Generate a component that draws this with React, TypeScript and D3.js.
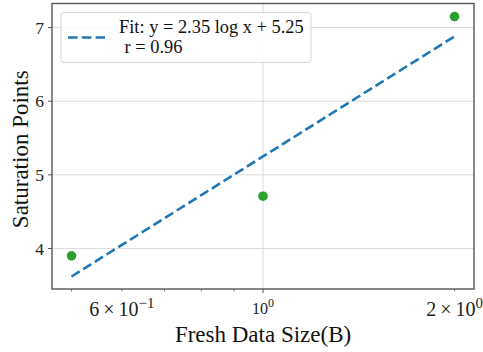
import React, { useEffect, useRef } from "react";
import * as d3 from "d3";

// observed points
const sizes = [0.5, 1, 2];
const points = [3.9, 4.71, 7.15];

// fitted curve, y = 2.35 ln x + 5.25
const fitX = [0.5, 1, 2];
const fitY = [3.62, 5.25, 6.88];

const yTicks = [4, 5, 6, 7];
const xMinor = [0.5, 0.6, 0.7, 0.8, 0.9, 2];
const legendLines = ["Fit: y = 2.35 log x + 5.25", "r = 0.96"];

export default function App() {
  const svgRef = useRef<SVGSVGElement | null>(null);

  useEffect(() => {
    if (!svgRef.current) return;
    const svg = d3.select(svgRef.current);
    svg.selectAll("*").remove();

    const width = 483;
    const height = 352;
    const margin = { top: 3.5, right: 9, bottom: 63, left: 52 };
    const w = width - margin.left - margin.right;
    const h = height - margin.top - margin.bottom;
    const font = "'Liberation Serif', 'Times New Roman', serif";

    const x = d3.scaleLog().domain([0.4659, 2.146]).range([0, w]);
    const y = d3.scaleLinear().domain([3.45, 7.327]).range([h, 0]);

    const g = svg.append("g").attr("transform", `translate(${margin.left},${margin.top})`);

    // grid
    g.selectAll(".hgrid")
      .data(yTicks)
      .enter()
      .append("line")
      .attr("x1", 0)
      .attr("x2", w)
      .attr("y1", (d) => y(d))
      .attr("y2", (d) => y(d))
      .attr("stroke", "#dcdcdc")
      .attr("stroke-width", 1);
    g.append("line")
      .attr("x1", x(1))
      .attr("x2", x(1))
      .attr("y1", 0)
      .attr("y2", h)
      .attr("stroke", "#dcdcdc")
      .attr("stroke-width", 1);

    // fit line
    const line = d3
      .line<number>()
      .x((d, i) => x(fitX[i]))
      .y((d) => y(d));
    g.append("path")
      .datum(fitY)
      .attr("fill", "none")
      .attr("stroke", "#1f77b4")
      .attr("stroke-width", 2.6)
      .attr("stroke-dasharray", "9.6,4.2")
      .attr("d", line);

    // points
    g.selectAll(".pt")
      .data(points)
      .enter()
      .append("circle")
      .attr("cx", (d, i) => x(sizes[i]))
      .attr("cy", (d) => y(d))
      .attr("r", 4.8)
      .attr("fill", "#2ca02c");

    // spines
    g.append("rect")
      .attr("x", 0)
      .attr("y", 0)
      .attr("width", w)
      .attr("height", h)
      .attr("fill", "none")
      .attr("stroke", "#555")
      .attr("stroke-width", 1.4);

    // y ticks
    const yt = g.selectAll(".yt").data(yTicks).enter().append("g");
    yt.append("line")
      .attr("x1", -4)
      .attr("x2", 0)
      .attr("y1", (d) => y(d))
      .attr("y2", (d) => y(d))
      .attr("stroke", "#555")
      .attr("stroke-width", 1);
    yt.append("text")
      .attr("x", -8)
      .attr("y", (d) => y(d))
      .attr("dy", "0.35em")
      .attr("text-anchor", "end")
      .attr("font-family", font)
      .attr("font-size", 17.5)
      .attr("fill", "#222")
      .text((d) => d);

    // x ticks
    g.selectAll(".xminor")
      .data(xMinor)
      .enter()
      .append("line")
      .attr("x1", (d) => x(d))
      .attr("x2", (d) => x(d))
      .attr("y1", h)
      .attr("y2", h + 2.5)
      .attr("stroke", "#555")
      .attr("stroke-width", 0.8);
    g.append("line")
      .attr("x1", x(1))
      .attr("x2", x(1))
      .attr("y1", h)
      .attr("y2", h + 4)
      .attr("stroke", "#555")
      .attr("stroke-width", 1);

    const label = (v: number, base: string, exp: string, size: number, supSize: number, baseline: number) => {
      const t = g
        .append("text")
        .attr("x", x(v))
        .attr("y", h + baseline)
        .attr("text-anchor", "middle")
        .attr("font-family", font)
        .attr("font-size", size)
        .attr("fill", "#222");
      t.append("tspan").text(base);
      t.append("tspan").attr("font-size", supSize).attr("dy", -size * 0.42).text(exp);
    };
    label(0.6, "6\u2009\u00d7\u200910", "\u22121", 20, 15, 27);
    label(1, "10", "0", 16, 12, 24.5);
    label(2, "2\u2009\u00d7\u200910", "0", 20, 15, 27);

    // axis titles
    svg.append("text")
      .attr("x", margin.left + x(1))
      .attr("y", 342)
      .attr("text-anchor", "middle")
      .attr("font-family", font)
      .attr("font-size", 23)
      .attr("fill", "#111")
      .text("Fresh Data Size(B)");
    svg.append("text")
      .attr("transform", `translate(28,${margin.top + h / 2 + 3}) rotate(-90)`)
      .attr("text-anchor", "middle")
      .attr("font-family", font)
      .attr("font-size", 23)
      .attr("fill", "#111")
      .text("Saturation Points");

    // legend
    const lg = g.append("g").attr("transform", "translate(9,9)");
    lg.append("rect")
      .attr("width", 250)
      .attr("height", 50)
      .attr("rx", 3)
      .attr("fill", "white")
      .attr("fill-opacity", 0.85)
      .attr("stroke", "#d8d8d8")
      .attr("stroke-width", 1);
    lg.append("line")
      .attr("x1", 7)
      .attr("x2", 44)
      .attr("y1", 25)
      .attr("y2", 25)
      .attr("stroke", "#1f77b4")
      .attr("stroke-width", 2.6)
      .attr("stroke-dasharray", "9.6,4.2");
    lg.selectAll(".lt")
      .data(legendLines)
      .enter()
      .append("text")
      .attr("x", (d, i) => (i === 0 ? 58 : 63.5))
      .attr("y", (d, i) => 20 + i * 20)
      .attr("font-family", font)
      .attr("font-size", 18.4)
      .attr("fill", "#111")
      .text((d) => d);
  }, []);

  return <svg ref={svgRef} width={483} height={352} style={{ position: "absolute", left: 0, top: 0 }} />;
}
